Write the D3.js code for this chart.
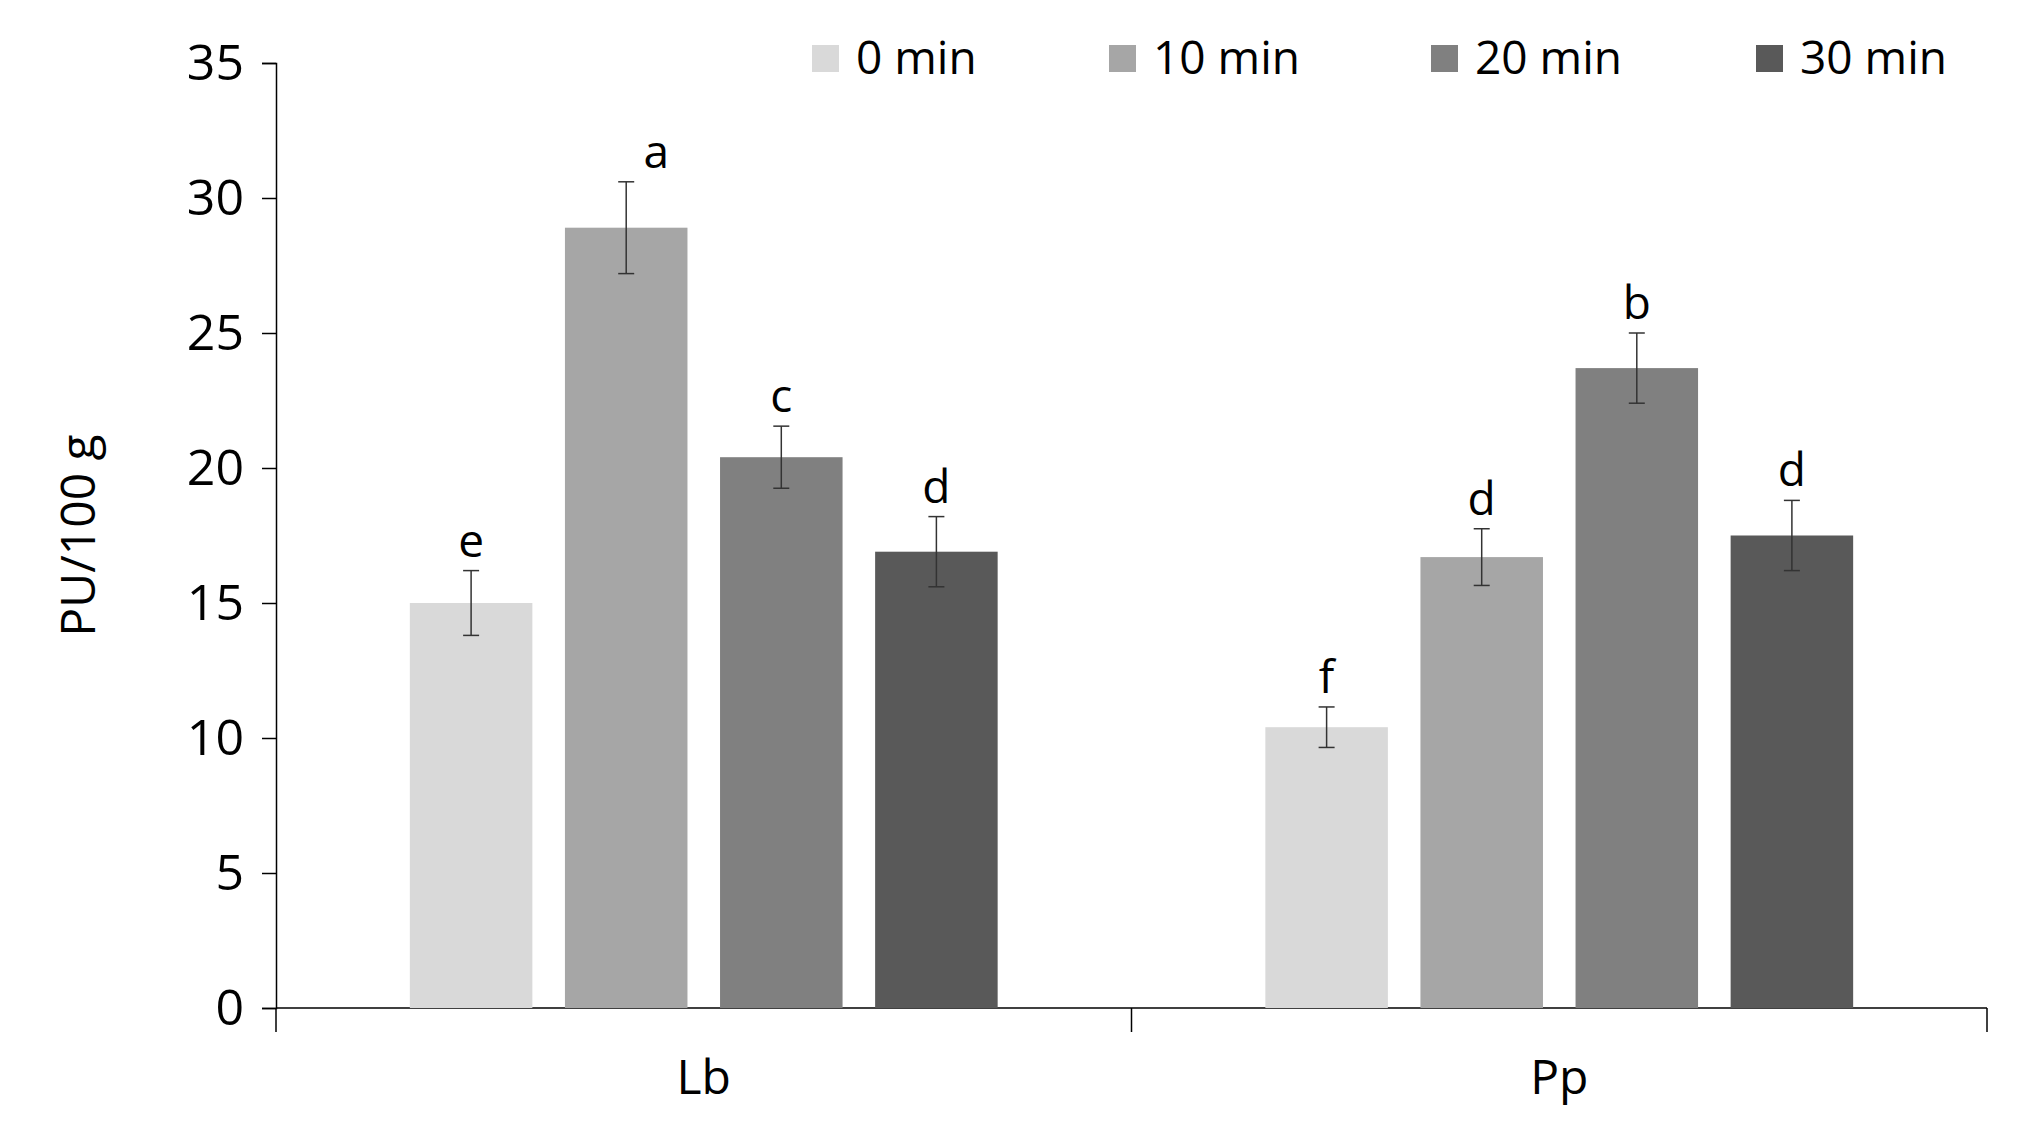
<!DOCTYPE html>
<html><head><meta charset="utf-8">
<script src="https://cdn.jsdelivr.net/npm/d3@7"></script>
<style>body{margin:0;background:#fff}text{font-family:"Open Sans","Liberation Sans",sans-serif;fill:#000}</style>
</head><body><svg id="c" width="2019" height="1135"></svg>
<script>
const categories=["Lb","Pp"];
const seriesNames=["0 min","10 min","20 min","30 min"];
const colors=["#d9d9d9","#a6a6a6","#808080","#595959"];
const valuesLb=[15.0,28.9,20.4,16.9];
const valuesPp=[10.4,16.7,23.7,17.5];
const errLb=[1.2,1.7,1.15,1.3];
const errPp=[0.75,1.05,1.3,1.3];
const lettersLb=["e","a","c","d"];
const lettersPp=["f","d","b","d"];
const yTicks=[0,5,10,15,20,25,30,35];

const data=[{c:"Lb",v:valuesLb,e:errLb,l:lettersLb},{c:"Pp",v:valuesPp,e:errPp,l:lettersPp}];
const svg=d3.select("#c");
const L=276,R=1987,T=63,B=1008;
const x=d3.scaleBand().domain(categories).range([L,R]);
const xi=d3.scaleBand().domain(seriesNames).range([0,x.bandwidth()]).paddingInner(0.21).paddingOuter(0.863);
const y=d3.scaleLinear().domain([0,35]).range([B,T]);

const ya=svg.append("g").attr("transform",`translate(${L},0)`).call(d3.axisLeft(y).tickValues(yTicks).tickSize(14).tickPadding(18));
ya.selectAll("text").style("font-size","50px");
ya.selectAll("line,path").attr("stroke","#000").attr("stroke-width",1.5);
const xa=svg.append("g").attr("transform",`translate(0,${B})`).call(d3.axisBottom(x).tickSize(0).tickPadding(52));
xa.select("path").remove();
xa.selectAll("text").style("font-size","48px");
svg.append("line").attr("x1",L).attr("x2",R).attr("y1",B).attr("y2",B).attr("stroke","#000").attr("stroke-width",1.5);
[L,L+x.bandwidth(),R].forEach(px=>svg.append("line").attr("x1",px).attr("x2",px).attr("y1",B).attr("y2",B+24).attr("stroke","#000").attr("stroke-width",1.5));

data.forEach(d=>{
  const g=svg.append("g").attr("transform",`translate(${x(d.c)},0)`);
  seriesNames.forEach((s,i)=>{
    const cx=xi(s)+xi.bandwidth()/2;
    g.append("rect").attr("x",xi(s)).attr("width",xi.bandwidth()).attr("y",y(d.v[i])).attr("height",B-y(d.v[i])).attr("fill",colors[i]);
    const hi=y(d.v[i]+d.e[i]),lo=y(d.v[i]-d.e[i]);
    g.append("line").attr("x1",cx).attr("x2",cx).attr("y1",hi).attr("y2",lo).attr("stroke","#333").attr("stroke-width",1.5);
    [hi,lo].forEach(yy=>g.append("line").attr("x1",cx-8).attr("x2",cx+8).attr("y1",yy).attr("y2",yy).attr("stroke","#333").attr("stroke-width",1.5));
    g.append("text").attr("x",cx+(d.l[i]==="a"?30:0)).attr("y",hi-14).attr("text-anchor","middle").style("font-size","46px").text(d.l[i]);
  });
});

const legX=[812,1109,1431,1756];
seriesNames.forEach((s,i)=>{
  svg.append("rect").attr("x",legX[i]).attr("y",45).attr("width",27).attr("height",27).attr("fill",colors[i]);
  svg.append("text").attr("x",legX[i]+44).attr("y",58).attr("dy","0.35em").style("font-size","46px").text(s);
});
svg.append("text").attr("transform",`translate(95,${(T+B)/2}) rotate(-90)`).attr("text-anchor","middle").style("font-size","48px").text("PU/100 g");
</script></body></html>
